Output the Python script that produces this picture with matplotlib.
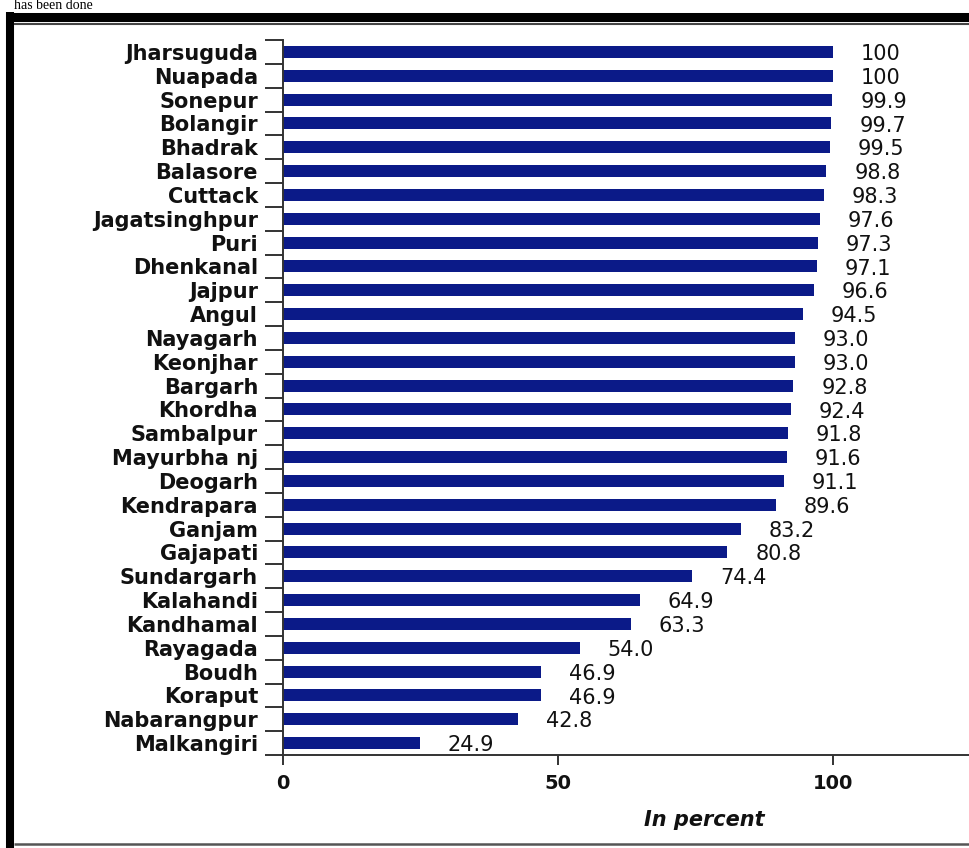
import matplotlib
matplotlib.use("Agg")
import matplotlib.pyplot as plt
import numpy as np
from matplotlib.lines import Line2D

districts = ["Jharsuguda", "Nuapada", "Sonepur", "Bolangir", "Bhadrak", "Balasore",
             "Cuttack", "Jagatsinghpur", "Puri", "Dhenkanal", "Jajpur", "Angul",
             "Nayagarh", "Keonjhar", "Bargarh", "Khordha", "Sambalpur", "Mayurbha nj",
             "Deogarh", "Kendrapara", "Ganjam", "Gajapati", "Sundargarh", "Kalahandi",
             "Kandhamal", "Rayagada", "Boudh", "Koraput", "Nabarangpur", "Malkangiri"]
values = [100, 100, 99.9, 99.7, 99.5, 98.8, 98.3, 97.6, 97.3, 97.1, 96.6, 94.5,
          93.0, 93.0, 92.8, 92.4, 91.8, 91.6, 91.1, 89.6, 83.2, 80.8, 74.4, 64.9,
          63.3, 54.0, 46.9, 46.9, 42.8, 24.9]
value_labels = ["100", "100", "99.9", "99.7", "99.5", "98.8", "98.3", "97.6", "97.3",
                "97.1", "96.6", "94.5", "93.0", "93.0", "92.8", "92.4", "91.8", "91.6",
                "91.1", "89.6", "83.2", "80.8", "74.4", "64.9", "63.3", "54.0", "46.9",
                "46.9", "42.8", "24.9"]
x_ticks = [0, 50, 100]
x_label = "In percent"

W, H = 969, 848
fig = plt.figure(figsize=(W / 100, H / 100), dpi=100)
fig.patch.set_facecolor("white")

left_px, right_px, top_px, bottom_px = 283, 969, 40, 755
ax = fig.add_axes([left_px / W, 1 - bottom_px / H, (right_px - left_px) / W, (bottom_px - top_px) / H])

n = len(districts)
y = np.arange(n)
bar_color = "#0b1a88"
ax.barh(y, values, height=0.5, color=bar_color, edgecolor="none")

for yi, v, lab in zip(y, values, value_labels):
    ax.annotate(lab, xy=(v, yi), xytext=(20, -1.5), textcoords="offset points",
                ha="left", va="center", fontsize=15, color="#111111",
                family="DejaVu Sans")

ax.set_xlim(0, (right_px - left_px) / 5.5)
ax.set_ylim(n - 0.5, -0.5)

# y axis
ax.set_yticks(y)
ax.set_yticklabels(districts, fontsize=15, fontweight="bold", color="#111111",
                   family="DejaVu Sans")
ax.set_yticks(np.arange(n + 1) - 0.5, minor=True)
ax.tick_params(axis="y", which="major", length=0, pad=18)
ax.tick_params(axis="y", which="minor", length=13, width=1.4, color="#333333", direction="out")

# x axis
ax.set_xticks(x_ticks)
ax.set_xticklabels([str(t) for t in x_ticks], fontsize=14, fontweight="bold", color="#111111")
ax.tick_params(axis="x", which="major", length=7, width=1.4, color="#333333", pad=7,
               direction="out")
ax.set_xlabel(x_label, fontsize=15, fontstyle="italic", fontweight="bold", color="#111111")
ax.xaxis.set_label_coords((704 - left_px) / (right_px - left_px), -(820 - bottom_px) / (bottom_px - top_px))
ax.xaxis.label.set_va("center")

for s in ["top", "right"]:
    ax.spines[s].set_visible(False)
for s in ["left", "bottom"]:
    ax.spines[s].set_linewidth(1.4)
    ax.spines[s].set_color("#333333")

# Frame lines
def px_line(x0, y0, x1, y1, lw, color):
    fig.add_artist(Line2D([x0 / W, x1 / W], [1 - y0 / H, 1 - y1 / H], lw=lw, color=color,
                          solid_capstyle="butt", transform=fig.transFigure))

px_line(10, 12, 10, 848, 5.8, "black")
px_line(6, 16.5, 969, 16.5, 6.5, "black")
px_line(14, 24, 969, 24, 1.5, "#444444")
px_line(14, 844, 969, 844, 1.8, "#555555")

fig.text(14 / W, 1 - 9 / H, "has been done", family="Liberation Serif", fontsize=10,
         va="baseline", ha="left", color="black")

fig.savefig("out.png", dpi=100)
